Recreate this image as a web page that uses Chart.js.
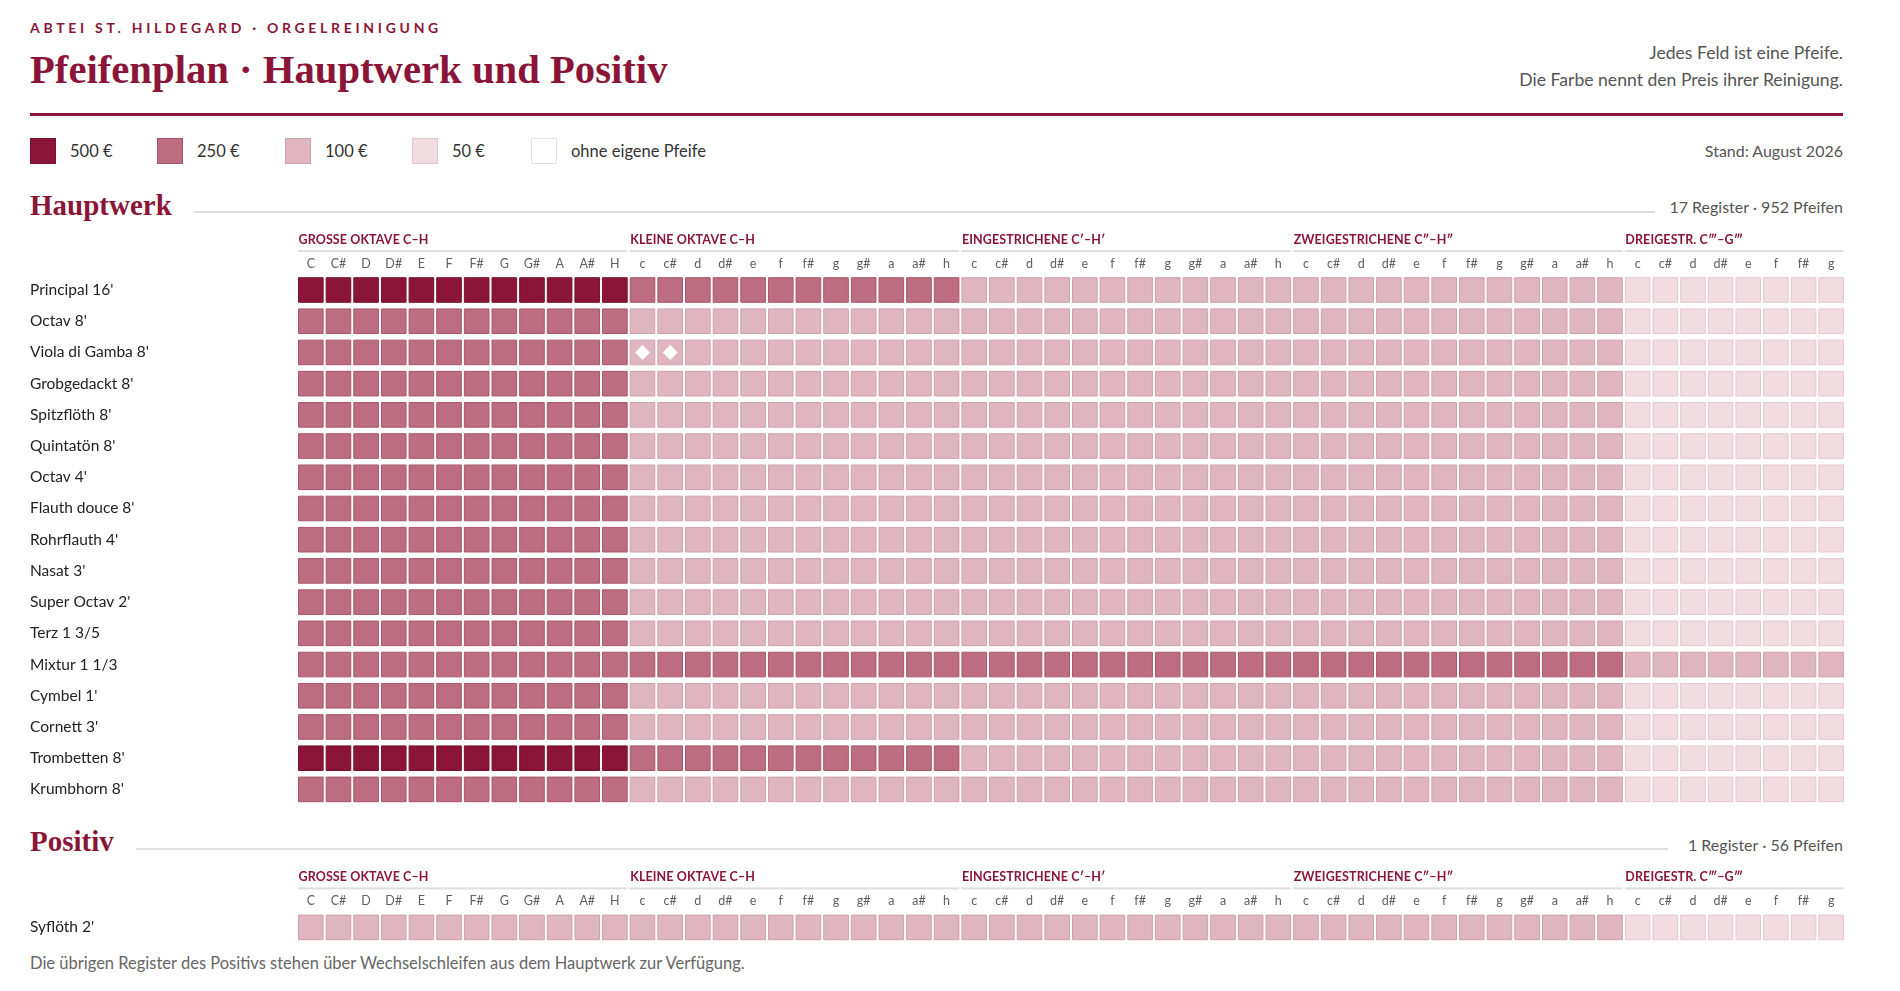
<!DOCTYPE html>
<html lang="de">
<head>
<meta charset="utf-8">
<title>Pfeifenplan · Hauptwerk und Positiv</title>
<script src="https://cdn.jsdelivr.net/npm/chart.js@4.4.1/dist/chart.umd.min.js"></script>
<style>
  body { margin: 0; background: #fff; font-family: Lato, "Noto Sans", sans-serif; color: #444; }
  #page { position: relative; width: 1900px; height: 991px; overflow: hidden; }
  .abs { position: absolute; white-space: nowrap; }
  .serif { font-family: "Liberation Serif", "DejaVu Serif", serif; font-weight: bold; color: #8b1538; }
  .kicker { left: 30px; top: 18px; font-size: 14px; line-height: 20px; letter-spacing: 3.7px; font-weight: bold; color: #8b1538; }
  .title { left: 30px; top: 46px; font-size: 40.7px; line-height: 48px; }
  .note { right: 57px; font-size: 17.6px; line-height: 26px; text-align: right; color: #555; }
  .rule { left: 30px; width: 1813px; top: 113px; height: 3px; background: #8b1538; }
  .legend { top: 138px; height: 26px; display: flex; align-items: center; font-size: 16.5px; color: #333; }
  .legend span.sw { display: inline-block; width: 26px; height: 26px; box-sizing: border-box; border: 1px solid; margin-right: 14px; }
  .section { left: 30px; font-size: 29px; line-height: 34px; }
  .line { height: 2px; background: #dedede; }
  .count { right: 57px; font-size: 16px; line-height: 22px; color: #555; }
  .chartbox { position: absolute; left: 30px; width: 1815px; }
  .foot { left: 30px; top: 952px; font-size: 16.5px; line-height: 22px; color: #666; }
</style>
</head>
<body>
<div id="page">
  <div class="abs kicker">ABTEI ST. HILDEGARD · ORGELREINIGUNG</div>
  <div class="abs title serif">Pfeifenplan · Hauptwerk und Positiv</div>
  <div class="abs note" style="top:40px">Jedes Feld ist eine Pfeife.</div>
  <div class="abs note" style="top:67px">Die Farbe nennt den Preis ihrer Reinigung.</div>
  <div class="abs rule"></div>

  <div id="legend"></div>
  <div class="abs count" style="top:140px">Stand: August 2026</div>

  <div class="abs section serif" style="top:188px">Hauptwerk</div>
  <div class="abs line" style="left:194px;width:1461px;top:211px"></div>
  <div class="abs count" style="top:196px">17 Register · 952 Pfeifen</div>
  <div class="chartbox" style="top:228px;height:577px"><canvas id="hauptwerk"></canvas></div>

  <div class="abs section serif" style="top:824px">Positiv</div>
  <div class="abs line" style="left:136px;width:1532px;top:848px"></div>
  <div class="abs count" style="top:834px">1 Register · 56 Pfeifen</div>
  <div class="chartbox" style="top:863px;height:80px"><canvas id="positiv"></canvas></div>

  <div class="abs foot">Die übrigen Register des Positivs stehen über Wechselschleifen aus dem Hauptwerk zur Verfügung.</div>
</div>

<script>
// Tasten von C bis g''' (56 Töne)
const notes = [
  'C', 'C#', 'D', 'D#', 'E', 'F', 'F#', 'G', 'G#', 'A', 'A#', 'H',
  'c', 'c#', 'd', 'd#', 'e', 'f', 'f#', 'g', 'g#', 'a', 'a#', 'h',
  'c', 'c#', 'd', 'd#', 'e', 'f', 'f#', 'g', 'g#', 'a', 'a#', 'h',
  'c', 'c#', 'd', 'd#', 'e', 'f', 'f#', 'g', 'g#', 'a', 'a#', 'h',
  'c', 'c#', 'd', 'd#', 'e', 'f', 'f#', 'g'
];
const octaveLabels = ['GROSSE OKTAVE C–H', 'KLEINE OKTAVE C–H', 'EINGESTRICHENE C′–H′', 'ZWEIGESTRICHENE C″–H″', 'DREIGESTR. C‴–G‴'];
const octaveSizes = [12, 12, 12, 12, 8];

const registers = [
  "Principal 16'", "Octav 8'", "Viola di Gamba 8'", "Grobgedackt 8'", "Spitzflöth 8'",
  "Quintatön 8'", "Octav 4'", "Flauth douce 8'", "Rohrflauth 4'", "Nasat 3'",
  "Super Octav 2'", "Terz 1 3/5", "Mixtur 1 1/3", "Cymbel 1'", "Cornett 3'",
  "Trombetten 8'", "Krumbhorn 8'"
];
// Preis je Pfeife in Euro, je Oktave (gross, klein, eingestr., zweigestr., dreigestr.)
const prices = [
  [500, 250, 100, 100, 50],
  [250, 100, 100, 100, 50],
  [250, 100, 100, 100, 50],
  [250, 100, 100, 100, 50],
  [250, 100, 100, 100, 50],
  [250, 100, 100, 100, 50],
  [250, 100, 100, 100, 50],
  [250, 100, 100, 100, 50],
  [250, 100, 100, 100, 50],
  [250, 100, 100, 100, 50],
  [250, 100, 100, 100, 50],
  [250, 100, 100, 100, 50],
  [250, 250, 250, 250, 100],
  [250, 100, 100, 100, 50],
  [250, 100, 100, 100, 50],
  [500, 250, 100, 100, 50],
  [250, 100, 100, 100, 50]
];
// markierte Felder (Register, Ton): Viola di Gamba c und c#
const markedRegister = [2, 2];
const markedNote = [12, 13];

const positivRegisters = ["Syflöth 2'"];
const positivPrices = [[100, 100, 100, 100, 50]];

const legendPrices = [500, 250, 100, 50];

const crimson = '#8b1538';
const fills = { 500: '#8b1538', 250: '#bd6d81', 100: '#dfb6c0', 50: '#f1dce2' };
const borders = { 500: '#781030', 250: '#a9566c', 100: '#cfa0ad', 50: '#e3c8cf' };

// legend
const legendLeft = [30, 157, 285, 412, 531];
const legend = document.getElementById('legend');
legendPrices.forEach((p, i) => {
  legend.insertAdjacentHTML('beforeend',
    `<div class="abs legend" style="left:${legendLeft[i]}px"><span class="sw" style="background:${fills[p]};border-color:${borders[p]}"></span>${p} €</div>`);
});
legend.insertAdjacentHTML('beforeend',
  `<div class="abs legend" style="left:${legendLeft[4]}px"><span class="sw" style="background:#fff;border-color:#e2e2e2"></span>ohne eigene Pfeife</div>`);

function buildCells(regPrices) {
  const cells = [];
  regPrices.forEach((row, r) => {
    let col = 0;
    row.forEach((price, g) => {
      for (let k = 0; k < octaveSizes[g]; k++) {
        cells.push({ x: col, y: r, price: price });
        col++;
      }
    });
  });
  return cells;
}

const octavePlugin = {
  id: 'octaves',
  afterDraw(chart) {
    const ctx = chart.ctx;
    const xs = chart.scales.x;
    const top = chart.chartArea.top;
    let start = 0;
    ctx.save();
    octaveLabels.forEach((label, i) => {
      const end = start + octaveSizes[i];
      const left = xs.getPixelForValue(start - 0.5) + 1;
      const right = xs.getPixelForValue(end - 0.5) - 1.5;
      ctx.fillStyle = crimson;
      ctx.font = 'bold 12.5px Lato';
      ctx.letterSpacing = '0.1px';
      ctx.textAlign = 'left';
      ctx.textBaseline = 'middle';
      ctx.fillText(label, left + 0.5, top - 34.4);
      ctx.fillStyle = '#dedede';
      ctx.fillRect(left, top - 24.4, right - left, 2);
      start = end;
    });
    ctx.restore();
  }
};

function noPadding(s) {
  s.paddingTop = 0;
  s.paddingBottom = 0;
  s.paddingLeft = 0;
  s.paddingRight = 0;
}

function makeChart(id, names, regPrices, marks, axisHeight) {
  const cells = buildCells(regPrices);
  const markData = marks[0].map((r, i) => ({ x: marks[1][i], y: r }));
  return new Chart(document.getElementById(id), {
    type: 'scatter',
    data: {
      datasets: [
        {
          label: 'markiert',
          data: markData,
          order: 0,
          pointStyle: 'rectRot',
          pointRadius: 7.5,
          pointBackgroundColor: '#ffffff',
          pointBorderWidth: 0
        },
        {
          label: 'Pfeifen',
          data: cells,
          order: 1,
          pointStyle: 'rect',
          pointRadius: 17.4,
          pointBorderWidth: 1,
          pointBackgroundColor: c => fills[c.raw.price],
          pointBorderColor: c => borders[c.raw.price]
        }
      ]
    },
    options: {
      responsive: true,
      maintainAspectRatio: false,
      animation: false,
      events: [],
      layout: { padding: 0, autoPadding: false },
      plugins: { legend: { display: false }, tooltip: { enabled: false } },
      scales: {
        x: {
          type: 'linear',
          position: 'top',
          min: -0.5,
          max: notes.length - 0.5,
          grid: { display: false, drawTicks: false },
          border: { display: false },
          afterBuildTicks: s => { s.ticks = notes.map((n, i) => ({ value: i })); },
          afterFit: s => { s.height = axisHeight; noPadding(s); },
          ticks: {
            autoSkip: false,
            maxRotation: 0,
            padding: 3,
            color: '#5f5f5f',
            font: { family: 'Lato', size: 12.5 },
            callback: v => notes[v]
          }
        },
        y: {
          type: 'linear',
          reverse: true,
          min: -0.5,
          max: names.length - 0.5,
          grid: { display: false, drawTicks: false },
          border: { display: false },
          afterBuildTicks: s => { s.ticks = names.map((n, i) => ({ value: i })); },
          afterFit: s => { s.width = 267; noPadding(s); },
          ticks: {
            autoSkip: false,
            crossAlign: 'far',
            color: '#222',
            font: { family: 'Lato', size: 15.5 },
            callback: v => names[v]
          }
        }
      }
    },
    plugins: [octavePlugin]
  });
}

makeChart('hauptwerk', registers, prices, [markedRegister, markedNote], 46.4);
makeChart('positiv', positivRegisters, positivPrices, [[], []], 48.8);
</script>
</body>
</html>
